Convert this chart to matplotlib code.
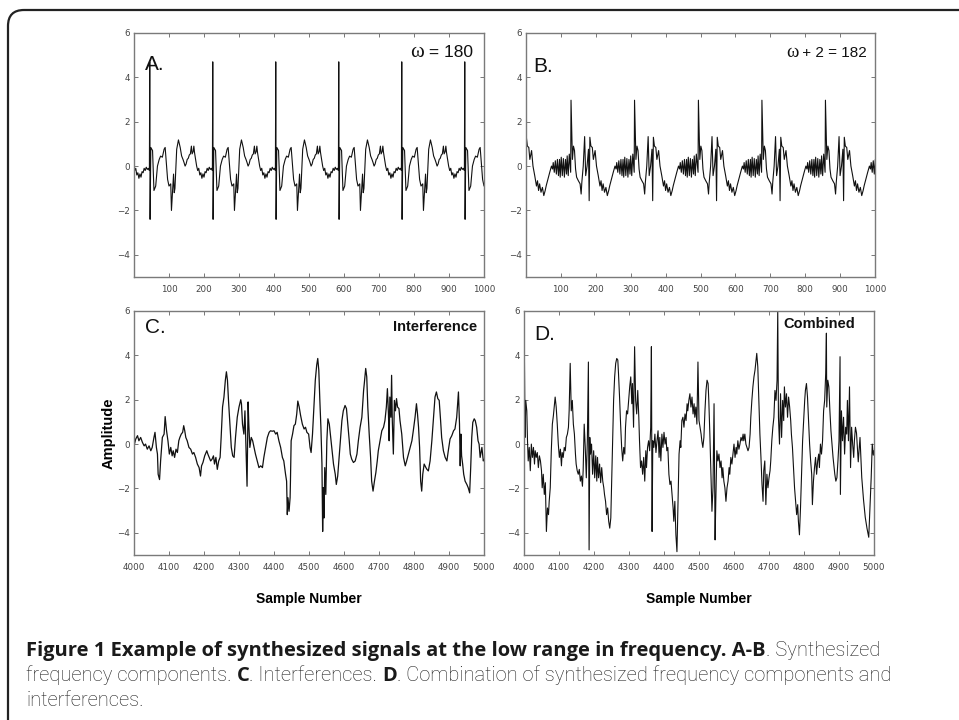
import matplotlib
matplotlib.use('Agg')
import matplotlib.pyplot as plt
from matplotlib.patches import FancyBboxPatch
import numpy as np

# panel A: one cycle (offset from spike, amplitude), spike positions
a_cycle_off = [-1, 0, 1, 3, 8, 12, 17, 22, 27, 31, 36, 41, 44, 48, 51, 55, 60, 62, 65, 68, 70, 72,
               77, 82, 87, 91, 95, 98, 101, 104, 107, 110, 113, 116, 119, 121, 124, 126, 128, 131,
               134, 137, 140, 143, 146, 149, 152, 155, 158, 161, 164, 167, 170, 173, 176]
a_cycle_val = [-0.2, 4.7, -2.4, 0.84, 0.7, -1.1, -0.9, 0.0, 0.3, 0.45, 0.4, 0.76, 0.84, 0.0, -0.6,
               -0.9, -0.8, -2.0, -1.2, -0.36, -1.2, -1.0, 0.76, 1.18, 0.84, 0.46, 0.3, 0.16, 0.0,
               0.1, 0.3, 0.35, 0.5, 0.55, 0.9, 0.55, 0.65, 0.9, 0.6, 0.3, 0.0, -0.2, -0.1, -0.4,
               -0.3, -0.55, -0.35, -0.5, -0.25, -0.3, -0.1, -0.2, -0.05, -0.15, -0.1]
a_spikes = [-135, 45, 225, 405, 585, 765, 945]

# panel B
b_cycle_off = [-1, 0, 4, 7, 10, 13, 16, 21, 26, 29, 31, 35, 39, 42, 46, 50, 52, 54, 57, 61, 64, 69,
               73, 78, 83, 86, 89, 92, 96, 100, 104, 108, 111, 116, 121, 126, 129, 131, 134, 137,
               140, 143, 146, 149, 151, 154, 157, 160, 163, 166, 169, 171, 174, 177]
b_cycle_val = [-0.28, 2.97, 0.3, 0.9, 0.7, -0.13, -0.5, -0.66, -0.8, -1.26, -0.73, 0.0, 1.33,
               -0.43, 0.0, 0.76, -1.56, 1.3, 0.9, 0.84, 0.3, 0.7, 0.0, -0.43, -0.9, -0.66, -1.1,
               -0.8, -1.18, -0.96, -1.33, -1.1, -0.88, -0.58, -0.28, 0.0, -0.13, 0.16, -0.28,
               0.24, -0.36, 0.3, -0.43, 0.3, -0.5, 0.4, -0.43, 0.34, -0.5, 0.3, -0.36, 0.46,
               -0.43, 0.54]
b_spikes = [-53, 129, 311, 494, 676, 858, 1040]

# panel C: interference
c_x = [4000, 4005, 4010, 4014, 4019, 4024, 4029, 4033, 4038, 4043, 4048, 4052, 4057, 4060, 4064,
       4067, 4069, 4073, 4076, 4081, 4086, 4089, 4093, 4097, 4101, 4105, 4109, 4112, 4116, 4120,
       4124, 4128, 4131, 4135, 4139, 4142, 4145, 4148, 4152, 4157, 4162, 4167, 4171, 4176, 4181,
       4186, 4190, 4193, 4197, 4202, 4208, 4211, 4215, 4219, 4223, 4227, 4230, 4234, 4238, 4242,
       4246, 4249, 4253, 4257, 4261, 4264, 4267, 4270, 4274, 4278, 4282, 4286, 4290, 4295, 4300,
       4305, 4307, 4310, 4314, 4317, 4320, 4323, 4326, 4328, 4331, 4335, 4339, 4343, 4347, 4352,
       4357, 4362, 4367, 4371, 4376, 4381, 4386, 4390, 4395, 4400, 4405, 4409, 4414, 4419, 4424,
       4428, 4433, 4436, 4438, 4440, 4443, 4446, 4447, 4449, 4453, 4457, 4461, 4465, 4468, 4472,
       4476, 4481, 4486, 4490, 4494, 4499, 4503, 4506, 4510, 4514, 4518, 4522, 4525, 4528, 4531,
       4534, 4537, 4539, 4541, 4543, 4545, 4548, 4551, 4554, 4558, 4561, 4565, 4570, 4575, 4578,
       4582, 4586, 4590, 4594, 4598, 4603, 4607, 4611, 4615, 4618, 4622, 4627, 4632, 4637, 4641,
       4646, 4651, 4656, 4658, 4662, 4665, 4668, 4672, 4676, 4679, 4683, 4687, 4691, 4695, 4698,
       4703, 4708, 4713, 4717, 4721, 4724, 4727, 4729, 4731, 4734, 4736, 4738, 4741, 4744, 4747,
       4750, 4753, 4757, 4760, 4765, 4770, 4775, 4779, 4784, 4789, 4794, 4798, 4803, 4807, 4810,
       4813, 4816, 4819, 4822, 4825, 4829, 4834, 4837, 4841, 4846, 4851, 4856, 4860, 4864, 4868,
       4872, 4876, 4879, 4884, 4889, 4894, 4898, 4903, 4908, 4913, 4917, 4922, 4927, 4930, 4932,
       4934, 4936, 4939, 4942, 4946, 4951, 4955, 4959, 4962, 4965, 4968, 4972, 4975, 4979, 4983,
       4986, 4989, 4994, 4998, 5000]
c_y = [-0.08, 0.23, 0.38, 0.15, 0.3, 0.08, -0.08, 0.0, -0.23, -0.08, -0.3, -0.15, 0.3, 0.53, -0.15,
       -0.45, -1.36, -1.6, -0.76, 0.3, 0.45, 1.24, 0.6, 0.15, -0.45, -0.15, -0.53, -0.3, -0.6, -0.23,
       -0.38, 0.15, 0.3, 0.45, 0.53, 0.83, 0.6, 0.3, 0.15, -0.15, -0.23, -0.45, -0.38, -0.6, -0.9,
       -1.06, -1.44, -0.98, -0.83, -0.53, -0.3, -0.45, -0.6, -0.76, -0.68, -0.53, -0.9, -0.6, -1.14,
       -0.76, -0.6, 0.3, 1.67, 2.12, 2.88, 3.26, 2.88, 1.97, 0.9, -0.15, -0.53, -0.6, 0.3, 1.21,
       1.67, 2.0, 1.82, 0.9, 0.45, 1.5, -0.15, -1.9, 1.9, 0.9, -0.15, 0.3, 0.15, -0.15, -0.45,
       -0.76, -1.06, -0.98, -1.06, -0.6, -0.15, 0.3, 0.53, 0.6, 0.58, 0.6, 0.45, 0.53, 0.15, -0.15,
       -0.6, -0.76, -1.36, -1.67, -3.18, -2.42, -3.03, -2.42, -1.67, 0.15, 0.45, 0.83, 0.9, 1.36,
       1.94, 1.67, 1.29, 0.9, 0.68, 0.76, 0.53, 0.45, -0.15, -0.38, 0.45, 1.67, 2.88, 3.56, 3.86,
       3.33, 1.97, 0.76, -0.9, -3.94, -1.97, -3.33, -1.06, -2.27, 0.15, 1.14, 0.9, 0.45, -0.15,
       -0.9, -1.36, -1.82, -1.44, -0.6, 0.3, 1.06, 1.5, 1.74, 1.6, 0.9, 0.15, -0.45, -0.68, -0.83,
       -0.76, -0.45, 0.15, 0.76, 1.21, 2.42, 2.73, 3.41, 3.03, 1.67, 0.45, -0.6, -1.67, -2.12,
       -1.67, -1.29, -0.76, -0.3, 0.15, 0.6, 0.76, 1.06, 1.67, 2.5, 1.36, 0.15, 2.12, 1.21, 3.1,
       1.06, -0.45, 1.97, 1.5, 2.05, 1.67, 1.6, 1.06, 0.45, -0.6, -0.98, -0.76, -0.45, -0.15, 0.15,
       0.6, 1.21, 1.82, 1.36, 0.76, -0.15, -1.67, -2.12, -1.36, -0.9, -1.06, -1.14, -1.21, -0.76,
       0.15, 1.21, 2.12, 2.35, 2.05, 1.97, 1.06, 0.3, -0.3, -0.6, -0.76, -0.3, 0.23, 0.38, 0.6,
       0.68, 1.21, 2.35, 0.9, -0.98, 0.45, -0.53, -0.9, -1.36, -1.67, -1.82, -1.97, -2.2, -1.06,
       0.3, 0.98, 1.14, 1.06, 0.76, 0.15, 0.0, -0.6, -0.15, -0.76, -0.7]

# panel D: combined
d_x = [4000, 4001, 4003, 4005, 4008, 4010, 4012, 4015, 4018, 4021, 4024, 4027, 4030, 4032, 4035,
       4038, 4041, 4044, 4047, 4050, 4052, 4055, 4058, 4061, 4064, 4067, 4070, 4072, 4075, 4078,
       4081, 4084, 4087, 4089, 4092, 4095, 4098, 4101, 4104, 4107, 4109, 4112, 4115, 4118, 4121,
       4124, 4127, 4129, 4132, 4135, 4138, 4141, 4144, 4147, 4149, 4152, 4155, 4158, 4161, 4164,
       4167, 4169, 4172, 4175, 4178, 4181, 4184, 4186, 4188, 4190, 4193, 4196, 4199, 4202, 4205,
       4208, 4210, 4213, 4216, 4219, 4222, 4225, 4228, 4230, 4233, 4236, 4239, 4242, 4245, 4248,
       4250, 4253, 4256, 4259, 4262, 4265, 4268, 4270, 4273, 4276, 4279, 4282, 4285, 4288, 4290,
       4293, 4296, 4299, 4302, 4305, 4308, 4310, 4313, 4316, 4319, 4322, 4325, 4328, 4330, 4333,
       4336, 4339, 4342, 4345, 4348, 4350, 4353, 4356, 4359, 4362, 4364, 4366, 4368, 4371, 4374,
       4377, 4380, 4383, 4386, 4388, 4391, 4394, 4397, 4400, 4403, 4406, 4408, 4411, 4414, 4417,
       4420, 4423, 4426, 4428, 4431, 4434, 4437, 4440, 4443, 4446, 4448, 4451, 4454, 4457, 4460,
       4463, 4466, 4468, 4471, 4474, 4477, 4480, 4483, 4486, 4488, 4491, 4494, 4497, 4500, 4503,
       4506, 4508, 4511, 4514, 4517, 4520, 4523, 4526, 4528, 4531, 4534, 4537, 4540, 4543, 4546,
       4548, 4551, 4554, 4557, 4560, 4563, 4566, 4568, 4571, 4574, 4577, 4580, 4583, 4586, 4588,
       4591, 4594, 4597, 4600, 4603, 4606, 4608, 4611, 4614, 4617, 4620, 4623, 4626, 4628, 4631,
       4634, 4637, 4640, 4643, 4646, 4648, 4651, 4654, 4657, 4660, 4663, 4665, 4668, 4671, 4674,
       4677, 4680, 4683, 4685, 4688, 4691, 4694, 4697, 4700, 4703, 4705, 4708, 4711, 4714, 4717,
       4720, 4723, 4725, 4727, 4730, 4733, 4736, 4739, 4742, 4744, 4747, 4750, 4753, 4756, 4759,
       4762, 4764, 4767, 4770, 4773, 4776, 4779, 4782, 4784, 4787, 4790, 4793, 4796, 4799, 4802,
       4804, 4807, 4810, 4813, 4816, 4819, 4822, 4824, 4827, 4830, 4833, 4836, 4839, 4842, 4844,
       4847, 4850, 4853, 4856, 4859, 4862, 4864, 4865, 4868, 4871, 4874, 4877, 4880, 4883, 4885,
       4888, 4891, 4894, 4897, 4900, 4903, 4904, 4907, 4910, 4913, 4916, 4919, 4922, 4924, 4927,
       4930, 4933, 4936, 4939, 4942, 4944, 4947, 4950, 4955, 4960, 4965, 4970, 4975, 4980, 4985,
       4988, 4992, 4995, 4998, 5000]
d_y = [-1.5, 4.3, 0.3, 1.97, 1.5, 0.15, -0.76, -0.15, -1.2, 0.0, -0.6, -0.15, -0.9, -0.3, -0.6,
       -0.38, -1.06, -0.53, -0.76, -1.2, -1.97, -1.36, -2.27, -1.74, -3.94, -2.88, -3.18, -2.58,
       -1.97, -0.3, 0.9, 1.29, 1.82, 2.12, 1.67, 0.9, 0.0, -0.6, -0.23, -0.98, -0.38, -0.6, -0.15,
       -0.3, 0.3, 0.45, 0.76, 1.5, 3.64, 1.5, 1.97, 0.9, 0.45, -0.45, -0.9, -1.2, -1.36, -1.14,
       -1.67, -1.44, -1.9, -1.2, 0.9, -0.15, -1.52, 0.15, 3.7, -4.77, 0.3, -0.45, 0.0, -1.36, -0.3,
       -1.52, -0.53, -1.67, -0.6, -1.52, -0.9, -1.74, -1.06, -1.67, -1.97, -2.27, -2.58, -3.18,
       -2.88, -3.48, -3.79, -3.33, -1.97, 0.15, 1.97, 3.03, 3.64, 3.86, 3.79, 3.18, 2.12, 0.9,
       -0.15, -0.76, -0.15, -0.45, 0.76, 1.5, 1.36, 1.97, 2.58, 3.03, 1.82, 2.73, 0.76, 4.39,
       1.97, 1.36, 2.42, 1.21, 0.15, -1.06, -0.76, -1.36, -0.6, -1.67, -0.3, -1.06, -0.15, 0.15,
       -0.3, 0.76, 4.39, -3.94, 0.15, -0.15, 0.45, -0.38, 0.15, 0.6, -0.6, 0.3, -0.76, 0.45, -0.15,
       0.53, 0.0, 0.3, -0.3, -0.15, -1.36, -1.82, -1.67, -2.27, -2.88, -3.48, -2.58, -4.09, -4.85,
       -2.58, -0.45, 0.15, -0.15, 1.06, 1.21, 0.76, 1.36, 1.06, 1.82, 1.5, 1.97, 2.27, 1.67, 2.12,
       1.36, 1.82, 1.21, 1.67, 0.9, 3.7, 1.06, 0.76, 0.45, 0.15, -0.15, 0.3, 1.5, 2.42, 2.88, 2.73,
       1.97, 0.45, -1.36, -3.03, -1.97, 1.82, -4.32, -2.58, -0.3, -0.76, -0.45, -1.06, -0.76,
       -1.52, -1.06, -1.67, -1.97, -2.58, -1.97, -1.67, -1.06, -1.36, -0.6, -0.9, -0.45, 0.0,
       -0.6, -0.15, -0.45, 0.15, -0.23, 0.0, 0.3, 0.15, 0.45, 0.15, 0.45, 0.0, -0.15, -0.3, -0.15,
       0.45, 1.21, 1.97, 2.58, 3.03, 3.33, 3.79, 4.09, 3.48, 1.97, 0.45, -0.6, -1.82, -2.58, -1.2,
       -0.76, -2.73, -1.36, -1.97, -1.52, -1.2, -0.76, 0.15, 0.76, 1.21, 2.42, 1.97, 2.88, 6.06,
       1.21, 0.0, 2.27, 0.3, 1.97, 1.06, 2.58, 1.67, 2.27, 1.21, 2.12, 1.67, 1.06, 0.45, -0.15,
       -1.06, -1.97, -2.58, -3.18, -2.73, -3.48, -4.09, -2.88, -1.36, 0.15, 1.06, 1.97, 2.42,
       2.73, 2.12, 1.06, 0.0, -0.76, -1.36, -2.73, -1.67, -1.06, -0.6, -1.36, -0.76, -0.45, -1.06,
       0.0, -0.45, 0.15, 1.5, 1.97, 3.18, 5.0, 1.67, 2.88, 2.58, 1.5, 0.6, 0.0, -0.6, -0.9, -1.36,
       -1.67, -1.52, -0.76, 0.15, 3.94, -2.27, 1.5, 0.15, 1.21, -0.45, 0.76, 0.45, 1.97, 0.15,
       2.58, -1.06, 0.76, 0.0, -0.6, 0.15, 0.76, 0.5, -0.8, 0.3, -1.5, -2.5, -3.3, -3.8, -4.2,
       -3.0, -1.5, 0.0, -0.5, -0.3]

xt_ab = [100, 200, 300, 400, 500, 600, 700, 800, 900, 1000]
xt_cd = [4000, 4100, 4200, 4300, 4400, 4500, 4600, 4700, 4800, 4900, 5000]
yt = [-4, -2, 0, 2, 4, 6]


def cycles(spikes, off, val):
    xs, ys = [], []
    for s in spikes:
        xs += [s + o for o in off]
        ys += val
    return xs, ys


def style(ax, xt, xlim):
    ax.set_xlim(xlim)
    ax.set_ylim(-5, 6)
    ax.set_xticks(xt)
    ax.set_yticks(yt)
    ax.tick_params(direction='in', top=True, right=True, length=3, width=0.7,
                   color='#777777', labelsize=6.3, labelcolor='#444444', pad=3)
    ax.tick_params(axis='x', pad=6)
    for s in ax.spines.values():
        s.set_color('#7a7a7a')
        s.set_linewidth(1.0)


fig = plt.figure(figsize=(9.59, 7.2), dpi=100)
W, H = 959.0, 720.0
renderer = fig.canvas.get_renderer()

axA = fig.add_axes([134 / W, 1 - 277 / H, 350 / W, 244 / H])
axB = fig.add_axes([526 / W, 1 - 277 / H, 349 / W, 244 / H])
axC = fig.add_axes([134 / W, 1 - 555 / H, 350 / W, 244 / H])
axD = fig.add_axes([524 / W, 1 - 555 / H, 350 / W, 244 / H])

lc = '#111111'
xa, ya = cycles(a_spikes, a_cycle_off, a_cycle_val)
axA.plot(xa, ya, color=lc, lw=0.8)
style(axA, xt_ab, (0, 1000))
xb, yb = cycles(b_spikes, b_cycle_off, b_cycle_val)
axB.plot(xb, yb, color=lc, lw=0.8)
style(axB, xt_ab, (0, 1000))
axC.plot(c_x, c_y, color=lc, lw=0.9)
style(axC, xt_cd, (4000, 5000))
axD.plot(d_x, d_y, color=lc, lw=0.8)
style(axD, xt_cd, (4000, 5000))

lab = dict(fontsize=15, family='Liberation Sans', color='#111111', va='top', ha='left')
axA.text(0.03, 0.91, 'A.', transform=axA.transAxes, **lab)
axB.text(0.02, 0.90, 'B.', transform=axB.transAxes, **lab)
axC.text(0.03, 0.97, 'C.', transform=axC.transAxes, **lab)
axD.text(0.03, 0.943, 'D.', transform=axD.transAxes, **lab)


def put_runs(x, y, parts):
    # parts: (text, size, family, weight, color), laid out left to right on one baseline
    for txt, size, fam, wt, col in parts:
        t = fig.text(x, y, txt, fontsize=size, family=fam, fontweight=wt, color=col, va='baseline')
        bb = t.get_window_extent(renderer)
        x += bb.width / fig.bbox.width


# omega labels: serif omega, sans digits
put_runs(410 / W, 1 - 57 / H, [('\u03c9', 15, 'Liberation Serif', 'normal', '#111111'),
                               (' = 180', 12.5, 'Liberation Sans', 'normal', '#111111')])
put_runs(786 / W, 1 - 57 / H, [('\u03c9', 13.5, 'Liberation Serif', 'normal', '#111111'),
                               (' + 2 = 182', 11, 'Liberation Sans', 'normal', '#111111')])

axC.text(0.98, 0.965, 'Interference', transform=axC.transAxes, fontsize=10.5, fontweight='bold',
         family='Liberation Sans', ha='right', va='top', color='#111111')
axD.text(0.946, 0.975, 'Combined', transform=axD.transAxes, fontsize=10.5, fontweight='bold',
         family='Liberation Sans', ha='right', va='top', color='#111111')

axC.set_ylabel('Amplitude', fontsize=10.5, fontweight='bold', family='Liberation Sans', labelpad=1)
axC.set_xlabel('Sample Number', fontsize=10, fontweight='bold', family='Liberation Sans', labelpad=14)
axD.set_xlabel('Sample Number', fontsize=10, fontweight='bold', family='Liberation Sans', labelpad=14)

# frame with rounded corner
frame = FancyBboxPatch((0.08, -1.0), 11.0, 8.1, boxstyle='round,pad=0,rounding_size=0.16',
                       transform=fig.dpi_scale_trans, fill=False, ec='#222222', lw=1.6)
fig.patches.append(frame)

# caption
B_ = (14.5, 'Open Sans', 'bold', '#1a1a1a')
R_ = (14.5, 'Roboto', 'light', '#1e1e1e')
put_runs(26 / W, 1 - 656 / H, [('Figure 1 Example of synthesized signals at the low range in frequency. A-B',) + B_,
                               ('. Synthesized',) + R_])
put_runs(26 / W, 1 - 681 / H, [('frequency components. ',) + R_, ('C',) + B_, ('. Interferences. ',) + R_,
                               ('D',) + B_, ('. Combination of synthesized frequency components and',) + R_])
put_runs(26 / W, 1 - 706 / H, [('interferences.',) + R_])

plt.savefig('out.png', dpi=100)
